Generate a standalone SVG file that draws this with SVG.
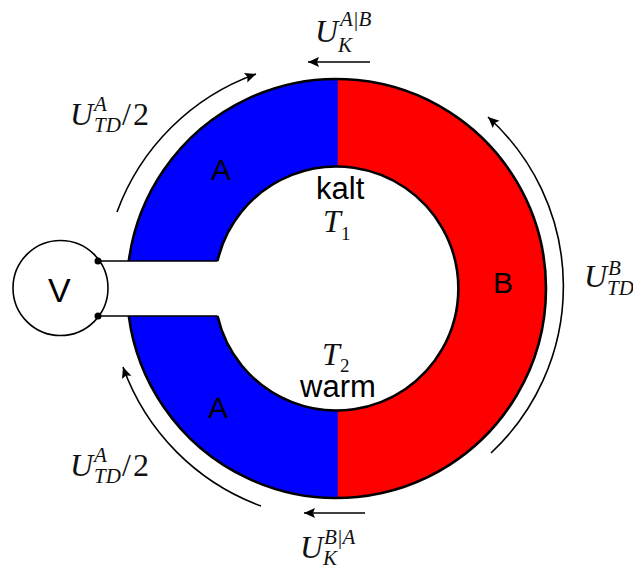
<svg xmlns="http://www.w3.org/2000/svg" width="633" height="570" viewBox="0 0 633 570">
<style>
.m{font-family:"Liberation Serif",serif;font-style:italic;fill:#111}
.b{font-size:32px}.s{font-size:21px}
.n{font-size:19px;font-style:normal}
.r{font-style:normal;letter-spacing:2px}
.l{font-family:"Liberation Sans",sans-serif;fill:#000}
.c{fill:none;stroke:#000;stroke-width:1.6}
.o{stroke:#000;stroke-width:2.6;fill:none}
</style>
<defs><marker id="h" markerUnits="userSpaceOnUse" markerWidth="14" markerHeight="12" refX="11" refY="5" orient="auto"><path d="M0 0L11 5L0 10L2 5Z" fill="#000"/></marker></defs>
<g id="leg-b"><path d="M128.800 261A209.500 209.500 0 1 1 128.800 316L217.500 316A122 122 0 1 0 217.500 261Z" fill="#f00"/></g>
<g id="leg-a-top"><path d="M128.800 261A209.500 209.500 0 0 1 337.700 78.500V166A122 122 0 0 0 217.500 261Z" fill="#00f"/></g>
<g id="leg-a-bottom"><path d="M128.800 316A209.500 209.500 0 0 0 337.700 497.500V410A122 122 0 0 1 217.500 316Z" fill="#00f"/></g>
<g id="outlines">
<path class="o" d="M128.800 261A209.500 209.500 0 1 1 128.800 316"/>
<path class="o" d="M217.500 261A122 122 0 1 1 217.500 316"/>
<path d="M98 261H217.500M98 316H217.500" class="c"/>
</g>
<g id="voltmeter">
<circle cx="60.500" cy="288" r="47.500" fill="#fff" stroke="#000" stroke-width="1.600"/>
<circle cx="98" cy="261" r="3.500"/><circle cx="98" cy="316" r="3.500"/>
<text class="l" x="48" y="302" font-size="34">V</text>
</g>
<g id="connectors">
<path class="c" marker-end="url(#h)" d="M117 212A231 231 0 0 1 256 74"/>
<path class="c" marker-end="url(#h)" d="M261 506A231 231 0 0 1 123 367"/>
<path class="c" marker-end="url(#h)" d="M491 453A228 228 0 0 0 488 117"/>
<path class="c" marker-end="url(#h)" d="M370 62H308"/>
<path class="c" marker-end="url(#h)" d="M365 513H304"/>
</g>
<g id="labels">
<text class="l" x="211" y="180" font-size="30">A</text>
<text class="l" x="208" y="418" font-size="30">A</text>
<text class="l" x="493" y="293" font-size="30">B</text>
<text class="l" x="316" y="199" font-size="31">kalt</text>
<text class="l" x="300" y="397" font-size="31">warm</text>
<text class="m b" x="323" y="232">T</text><text class="m n" x="341" y="240">1</text>
<text class="m b" x="322" y="365">T</text><text class="m n" x="340" y="372">2</text>
<g id="u-a-top"><text class="m b" x="70" y="125">U</text><text class="m s" x="94" y="111">A</text><text class="m s" x="94" y="132">TD</text><text class="m b r" x="122" y="125">/2</text></g>
<g id="u-a-bottom"><text class="m b" x="70" y="476">U</text><text class="m s" x="94" y="462">A</text><text class="m s" x="94" y="483">TD</text><text class="m b r" x="122" y="476">/2</text></g>
<g id="u-b"><text class="m b" x="584" y="287">U</text><text class="m s" x="608" y="275">B</text><text class="m s" x="607" y="295">TD</text></g>
<g id="u-ab"><text class="m b" x="315" y="42">U</text><text class="m s" x="340" y="26">A|B</text><text class="m s" x="338" y="52">K</text></g>
<g id="u-ba"><text class="m b" x="300" y="558">U</text><text class="m s" x="324" y="544">B|A</text><text class="m s" x="323" y="565">K</text></g>
</g>
</svg>
